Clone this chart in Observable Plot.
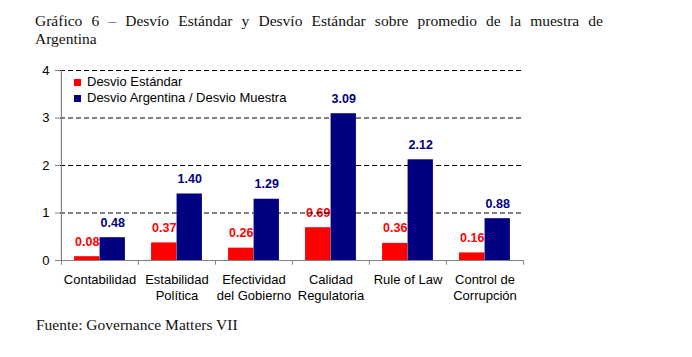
<!DOCTYPE html>
<html>
<head>
<meta charset="utf-8">
<script src="https://cdn.jsdelivr.net/npm/d3@7"></script>
<script src="https://cdn.jsdelivr.net/npm/@observablehq/plot@0.6"></script>
<style>
  body { margin: 0; background: #fff; width: 692px; height: 357px; position: relative; overflow: hidden; }
  #title { position: absolute; left: 35px; top: 12px; width: 568px; font-family: "Liberation Serif", "Times New Roman", serif; font-size: 15.5px; line-height: 18px; color: #111; }
  #title .l1 { text-align: justify; text-align-last: justify; }
  #chart { position: absolute; left: 0; top: 50px; }
  #legend { position: absolute; left: 74px; top: 74px; font-family: "Liberation Sans", Arial, sans-serif; font-size: 13px; color: #000; }
  #legend div { height: 16px; line-height: 16px; display: flex; align-items: center; }
  #legend span.sw { display: inline-block; width: 7px; height: 7px; margin-right: 6px; }
  #caption { position: absolute; left: 36px; top: 316px; font-family: "Liberation Serif", "Times New Roman", serif; font-size: 15.5px; color: #111; }
</style>
</head>
<body>
<div id="title"><div class="l1">Gráfico 6 – Desvío Estándar y Desvío Estándar sobre promedio de la muestra de</div><div>Argentina</div></div>
<div id="chart"></div>
<div id="legend"></div>
<div id="caption">Fuente: Governance Matters VII</div>
<script>
const categories = ["Contabilidad", "Estabilidad\nPolítica", "Efectividad\ndel Gobierno", "Calidad\nRegulatoria", "Rule of Law", "Control de\nCorrupción"];
const desvioEstandar = [0.08, 0.37, 0.26, 0.69, 0.36, 0.16];
const desvioRatio = [0.48, 1.40, 1.29, 3.09, 2.12, 0.88];
const seriesNames = ["Desvio Estándar", "Desvio Argentina / Desvio Muestra"];
const seriesColors = ["#FF0000", "#000080"];
const yTicks = [0, 1, 2, 3, 4];
const gridTicks = [1, 2, 3, 4];

const W = 692, H = 260, mL = 60, mR = 169, mT = 20, mB = 50;
const bw = (W - mL - mR) / categories.length;
const barW = 25.5;
const outer = (bw - 2 * barW) / 2;

const red = categories.map((c, i) => ({cat: c, v: desvioEstandar[i]}));
const blue = categories.map((c, i) => ({cat: c, v: desvioRatio[i]}));
const gray = "#808080";

const chart = Plot.plot({
  width: W, height: H,
  marginLeft: mL, marginRight: mR, marginTop: mT, marginBottom: mB,
  style: {fontFamily: "'Liberation Sans', Arial, sans-serif", fontSize: "13px", background: "transparent"},
  x: {type: "band", domain: categories, paddingInner: 0, paddingOuter: 0, axis: null},
  y: {domain: [0, 4], axis: null},
  marks: [
    Plot.text(red, {x: "cat", y: "v", text: d => d.v.toFixed(2), dx: -barW / 2, dy: -15, fill: seriesColors[0], fontWeight: "bold", fontSize: 12.5}),
    Plot.text(blue, {x: "cat", y: "v", text: d => d.v.toFixed(2), dx: barW / 2, dy: -15, fill: seriesColors[1], fontWeight: "bold", fontSize: 12.5}),
    Plot.ruleY(gridTicks, {stroke: "#000", strokeDasharray: "5,3", strokeWidth: 1}),
    Plot.barY(red, {x: "cat", y: "v", fill: seriesColors[0], insetLeft: outer, insetRight: outer + barW}),
    Plot.barY(blue, {x: "cat", y: "v", fill: seriesColors[1], insetLeft: outer + barW, insetRight: outer}),
    Plot.ruleY([0], {stroke: gray, strokeWidth: 1.2}),
    Plot.ruleX([categories[0]], {x: d => d, y1: 0, y2: 4, dx: -bw / 2, stroke: gray, strokeWidth: 1.2}),
    Plot.ruleX(categories, {x: d => d, y1: 0, y2: -0.1, dx: -bw / 2, stroke: gray}),
    Plot.ruleX([categories[categories.length - 1]], {x: d => d, y1: 0, y2: -0.1, dx: bw / 2, stroke: gray}),
    Plot.axisY({ticks: yTicks, tickFormat: d => String(d), label: null, tickSize: 5, tickPadding: 6, stroke: gray, fill: "#000", fontSize: 13}),
    Plot.text(categories, {x: d => d, y: 0, text: d => d, dy: 11, lineAnchor: "top", lineHeight: 1.3, fontSize: 13, fill: "#000"})
  ]
});
document.getElementById("chart").appendChild(chart);

const legend = document.getElementById("legend");
seriesNames.forEach((name, i) => {
  const row = document.createElement("div");
  const sw = document.createElement("span");
  sw.className = "sw";
  sw.style.background = seriesColors[i];
  row.appendChild(sw);
  row.appendChild(document.createTextNode(name));
  legend.appendChild(row);
});
</script>
</body>
</html>
